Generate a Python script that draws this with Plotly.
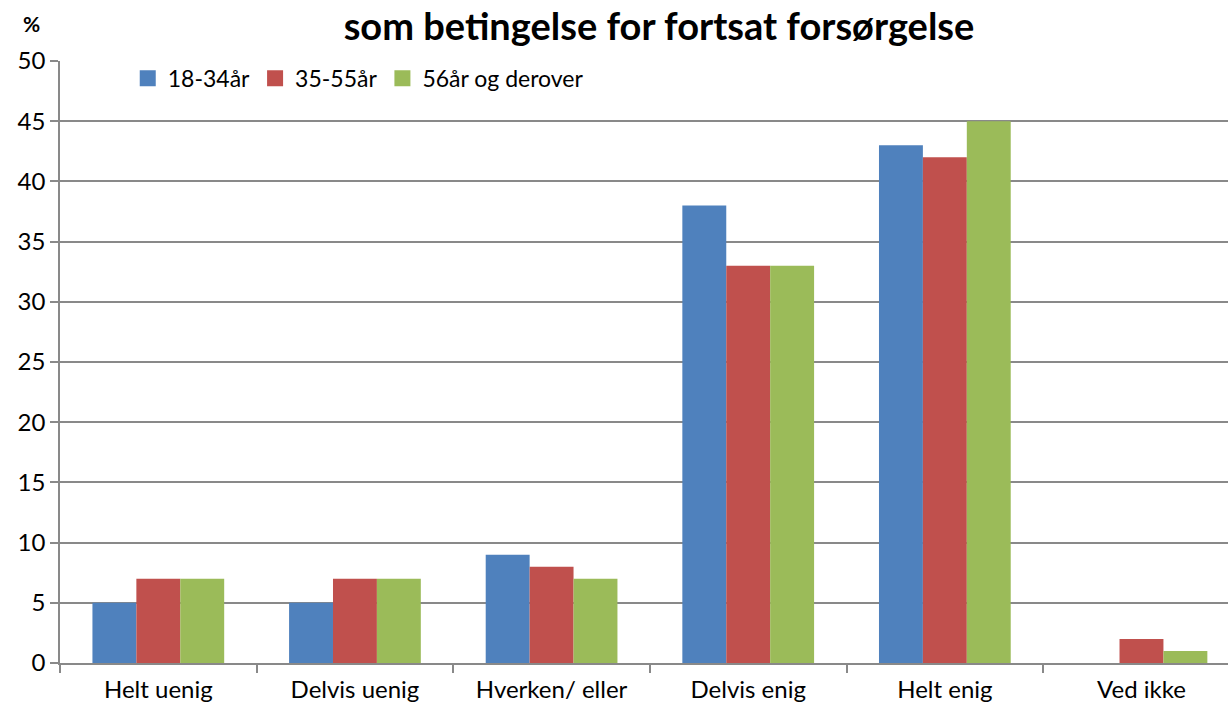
import plotly.graph_objects as go

categories = ["Helt uenig", "Delvis uenig", "Hverken/ eller", "Delvis enig", "Helt enig", "Ved ikke"]
age_18_34 = [5, 5, 9, 38, 43, 0]
age_35_55 = [7, 7, 8, 33, 42, 2]
age_56_plus = [7, 7, 7, 33, 45, 1]
series_names = ["18-34år", "35-55år", "56år og derover"]
series_colors = ["#4F81BD", "#C0504D", "#9BBB59"]
y_ticks = [0, 5, 10, 15, 20, 25, 30, 35, 40, 45, 50]

FONT = "Lato"
AXIS_GREY = "#898989"

fig = go.Figure()
for name, vals, col in zip(series_names, [age_18_34, age_35_55, age_56_plus], series_colors):
    fig.add_trace(go.Bar(x=categories, y=vals, name=name, showlegend=False,
                         marker=dict(color=col, line=dict(width=0))))

# legend keys drawn as larger square swatches
for name, col in zip(series_names, series_colors):
    fig.add_trace(go.Scatter(x=[None], y=[None], mode="markers", name=name,
                             marker=dict(symbol="square", size=17, color=col)))

fig.update_layout(
    width=1228, height=708,
    margin=dict(l=60, r=0, t=61, b=45),
    paper_bgcolor="white", plot_bgcolor="white",
    barmode="group", bargap=0.33, bargroupgap=0,
    font=dict(family=FONT, size=23, color="black"),
    showlegend=True,
    legend=dict(orientation="h", x=0.058, y=1.007, xanchor="left", yanchor="top",
                font=dict(size=23), bgcolor="rgba(0,0,0,0)",
                itemwidth=30, tracegroupgap=0),
    title=dict(text="<b>som betingelse for fortsat forsørgelse</b>",
               x=659 / 1228, xanchor="center", y=0.962, yanchor="middle",
               font=dict(family=FONT, size=38, color="black")),
)

fig.add_annotation(text="<b>%</b>", xref="paper", yref="paper",
                   x=-0.024, y=1.062, xanchor="center", yanchor="middle",
                   showarrow=False,
                   font=dict(family=FONT, size=21, color="black"))

fig.update_yaxes(range=[0, 50], tickvals=y_ticks, showgrid=True,
                 gridcolor=AXIS_GREY, gridwidth=1.5,
                 showline=True, linecolor=AXIS_GREY, linewidth=1.5,
                 ticks="outside", ticklen=8, tickcolor=AXIS_GREY, tickwidth=1.5,
                 zeroline=False, tickfont=dict(size=24), automargin=False)
fig.update_xaxes(range=[-0.5, 5.44], showline=True, linecolor=AXIS_GREY, linewidth=1.5,
                 ticks="outside", tickson="boundaries", ticklen=8,
                 tickcolor=AXIS_GREY, tickwidth=1.5, tickfont=dict(size=24),
                 ticklabelstandoff=4, automargin=False)

fig.write_html("out.html")
